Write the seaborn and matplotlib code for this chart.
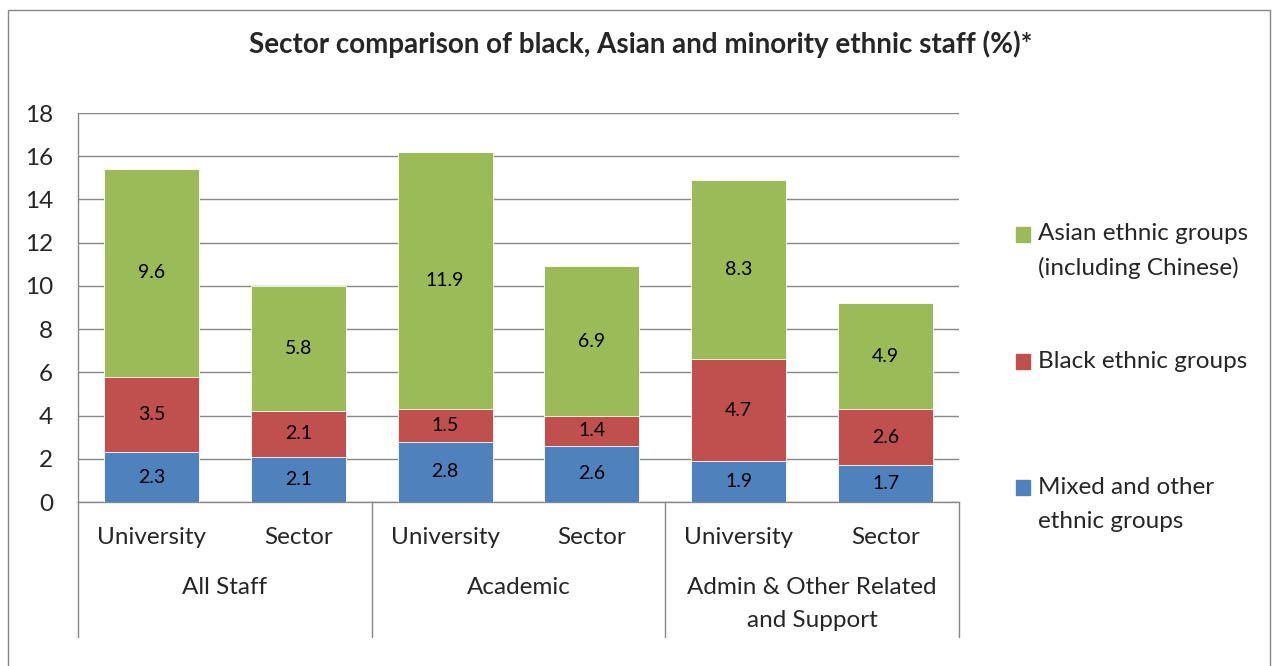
"""Stacked bar chart: sector comparison of BAME staff."""

import matplotlib

matplotlib.use("Agg")

import matplotlib.pyplot as plt
import matplotlib.patches as mpatches
import numpy as np
import pandas as pd
import seaborn as sns

# data
groups = ["All Staff", "Academic", "Admin & Other Related\nand Support"]
comparators = ["University", "Sector"]
mixed = [2.3, 2.1, 2.8, 2.6, 1.9, 1.7]
black = [3.5, 2.1, 1.5, 1.4, 4.7, 2.6]
asian = [9.6, 5.8, 11.9, 6.9, 8.3, 4.9]
series_names = [
    "Mixed and other\nethnic groups",
    "Black ethnic groups",
    "Asian ethnic groups\n(including Chinese)",
]
series_colors = ["#4F81BD", "#C0504D", "#9BBB59"]
y_ticks = [0, 2, 4, 6, 8, 10, 12, 14, 16, 18]
title = "Sector comparison of black, Asian and minority ethnic staff (%)*"

FS = 17.5

sns.set_style("white")
plt.rcParams["font.family"] = ["Lato", "DejaVu Sans"]

bar_ids = [f"{g}|{c}" for g in groups for c in comparators]
df = pd.DataFrame({"bar": bar_ids, "mixed": mixed, "black": black, "asian": asian})
layers = [df["mixed"], df["black"], df["asian"]]
cum = np.cumsum(np.vstack(layers), axis=0)

fig = plt.figure(figsize=(12.73, 6.66), dpi=100)
ax = fig.add_axes([0.0613, 0.2462, 0.692, 0.5841])

# draw tallest cumulative layer first so lower layers sit on top
for i in reversed(range(3)):
    sns.barplot(
        x=df["bar"],
        y=cum[i],
        order=bar_ids,
        color=series_colors[i],
        saturation=1,
        width=0.647,
        edgecolor="white",
        linewidth=0.6,
        errorbar=None,
        ax=ax,
        zorder=3,
    )

# segment labels
for i in range(3):
    bottoms = cum[i] - layers[i].to_numpy()
    for x, (b, v) in enumerate(zip(bottoms, layers[i])):
        ax.text(x, b + v / 2, f"{v:.1f}", ha="center", va="center",
                fontsize=14, color="black", zorder=4)

ax.set_xlim(-0.5, len(bar_ids) - 0.5)
ax.set_ylim(0, 18)
ax.set_yticks(y_ticks)
ax.yaxis.grid(True, color="#878787", linewidth=1.0, zorder=0)
ax.xaxis.grid(False)
ax.tick_params(axis="y", length=0, pad=18, labelsize=FS)
ax.set_xticks(range(len(bar_ids)))
ax.set_xticklabels(comparators * len(groups))
ax.tick_params(axis="x", length=0, pad=18, labelsize=FS)
ax.set_xlabel("")
ax.set_ylabel("")
for side in ["top", "right"]:
    ax.spines[side].set_visible(False)
for side in ["left", "bottom"]:
    ax.spines[side].set_color("#878787")
    ax.spines[side].set_linewidth(1.0)

# group labels and dividers below the category axis
trans = ax.get_xaxis_transform()
for k, g in enumerate(groups):
    for j, line in enumerate(g.split("\n")):
        ax.text(2 * k + 0.5, -0.2185 - j * 0.0848, line, ha="center",
                va="center", fontsize=FS, transform=trans)
for xd in [-0.5, 1.5, 3.5, 5.5]:
    ax.plot([xd, xd], [0, -0.347], color="#878787", linewidth=1.0,
            transform=trans, clip_on=False)

fig.suptitle(title, x=0.503, y=0.955, fontsize=20, fontweight="bold")

# legend drawn manually so squares align with the first line of each label
legend_rows = [(2, 234), (1, 361), (0, 487)]
for idx, y_px in legend_rows:
    yc = 1 - y_px / 666
    fig.patches.append(mpatches.Rectangle(
        (1016 / 1273, yc - 7.5 / 666), 14 / 1273, 15 / 666,
        transform=fig.transFigure, color=series_colors[idx]))
    for j, line in enumerate(series_names[idx].split("\n")):
        fig.text(1038 / 1273, yc - j * 34 / 666, line, va="center",
                 ha="left", fontsize=FS)

# outer chart border
fig.patches.append(mpatches.Rectangle(
    (8 / 1273, -0.05), 1262 / 1273, 1.05 - 9.5 / 666,
    transform=fig.transFigure, fill=False, edgecolor="#868686", linewidth=1.0))

fig.savefig("out.png", dpi=100)
